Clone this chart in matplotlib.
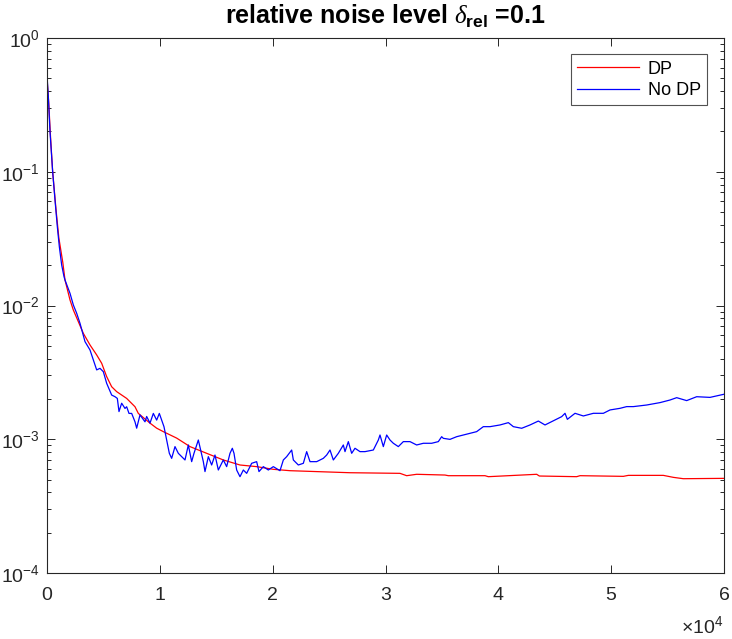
import matplotlib
matplotlib.use("Agg")
import matplotlib.pyplot as plt
from matplotlib.ticker import LogLocator, LogFormatterMathtext, NullFormatter, MultipleLocator, FuncFormatter

plt.rcParams['font.family'] = ['Liberation Sans', 'DejaVu Sans']
plt.rcParams['mathtext.fontset'] = 'custom'
plt.rcParams['mathtext.rm'] = 'Liberation Sans'
plt.rcParams['mathtext.it'] = 'Liberation Serif:italic'
plt.rcParams['mathtext.bf'] = 'Liberation Sans:bold'
plt.rcParams['mathtext.default'] = 'regular'

# ---- data ----
dp_x = [0, 150, 300, 500, 800, 1050, 1400, 1596, 2039, 2334, 2777, 3220, 3811, 4402, 4845,
        5288, 5731, 6174, 7060, 7799, 8094, 9128, 9719, 10310, 11491, 12673, 14150, 15627,
        17104, 18581, 20058, 21535, 23900, 26854, 31285, 31876, 32762, 35273, 35568, 38818,
        39113, 43399, 43635, 46944, 47239, 51079, 51523, 54624, 55510, 56396, 59941, 60000]
dp_y = [0.50, 0.33, 0.19, 0.100, 0.052, 0.032, 0.021, 0.0155, 0.0110, 0.00925, 0.00757,
        0.00619, 0.00507, 0.00427, 0.00370, 0.00294, 0.00247, 0.00227, 0.00202, 0.00175,
        0.00156, 0.00132, 0.00121, 0.00114, 0.00102, 0.000881, 0.000785, 0.000700, 0.000642,
        0.000624, 0.000596, 0.000582, 0.000573, 0.000562, 0.000556, 0.000534, 0.000547,
        0.000540, 0.000534, 0.000534, 0.000525, 0.000547, 0.000531, 0.000525, 0.000534,
        0.000528, 0.000537, 0.000537, 0.000519, 0.000507, 0.000510, 0.000510]

nodp_x = [0, 118, 266, 502, 709, 916, 1093, 1300, 1507, 1596, 2039, 2334, 2629, 2925, 3368,
          3811, 4106, 4402, 4697, 4993, 5288, 5731, 6027, 6233, 6381, 6617, 6913, 7060, 7267,
          7504, 7799, 7947, 8242, 8685, 8833, 9128, 9424, 9719, 9955, 10162, 10369, 10605,
          10842, 11048, 11344, 11639, 11935, 12230, 12525, 12821, 13027, 13412, 13618, 13855,
          14002, 14298, 14593, 14889, 15184, 15627, 15922, 16218, 16425, 16573, 16809, 17104,
          17400, 17695, 18138, 18581, 18788, 19172, 19615, 20058, 20649, 20946, 21241, 21685,
          21832, 22275, 22718, 23014, 23309, 23900, 24491, 24786, 25082, 25377, 25820, 26263,
          26411, 26706, 27002, 27297, 27740, 28183, 28922, 29365, 29513, 29808, 30103, 30399,
          30694, 31137, 31581, 32171, 32762, 33353, 34091, 34682, 34977, 35125, 35716, 36307,
          36898, 37488, 38079, 38670, 39263, 40149, 40888, 41331, 42070, 42808, 43546, 44137,
          45024, 45614, 45910, 46117, 46796, 47535, 48421, 49307, 49898, 50784, 51375, 51966,
          53147, 54329, 55215, 55806, 56692, 57578, 58760, 59941, 60000]
nodp_y = [0.528, 0.364, 0.1995, 0.1002, 0.0615, 0.0388, 0.0275, 0.0201, 0.01644, 0.0155,
          0.01233, 0.01009, 0.00875, 0.00736, 0.00537, 0.00465, 0.00392, 0.00330, 0.00339,
          0.00320, 0.00262, 0.00214, 0.00208, 0.00202, 0.00161, 0.00186, 0.00170, 0.00175,
          0.00156, 0.00156, 0.00135, 0.00121, 0.00152, 0.00135, 0.00148, 0.00132, 0.00156,
          0.00139, 0.00156, 0.00139, 0.00124, 0.000987, 0.000785, 0.000720, 0.000881, 0.000785,
          0.000741, 0.000700, 0.000906, 0.000680, 0.000785, 0.000987, 0.000831, 0.000680,
          0.000573, 0.000741, 0.000642, 0.000762, 0.000589, 0.000700, 0.000624, 0.000785,
          0.000856, 0.000785, 0.000589, 0.000525, 0.000589, 0.000556, 0.000661, 0.000680,
          0.000573, 0.000624, 0.000589, 0.000624, 0.000582, 0.000700, 0.000741, 0.000831,
          0.000700, 0.000642, 0.000661, 0.000808, 0.000680, 0.000680, 0.000720, 0.000762,
          0.000831, 0.000700, 0.000785, 0.000906, 0.000808, 0.000960, 0.000785, 0.000856,
          0.000808, 0.000808, 0.000831, 0.000987, 0.001076, 0.000881, 0.001076, 0.000987,
          0.000933, 0.000881, 0.000960, 0.000960, 0.000906, 0.000933, 0.000933, 0.000960,
          0.001045, 0.001016, 0.000998, 0.001045, 0.001076, 0.001107, 0.001140, 0.001242,
          0.001242, 0.001279, 0.001331, 0.001242, 0.001208, 0.001279, 0.001368, 0.001279,
          0.001393, 0.001476, 0.001563, 0.001409, 0.001563, 0.001493, 0.001563, 0.001563,
          0.001656, 0.001703, 0.001754, 0.001754, 0.001803, 0.001879, 0.001965, 0.002046,
          0.001945, 0.002080, 0.002056, 0.002167, 0.00217]

series_labels = ['DP', 'No DP']
title_text = r'relative noise level $\mathit{\delta}_{\mathbf{rel}}$ =0.1'
x_scale_exp = 4

# ---- figure ----
fig = plt.figure(figsize=(7.32, 6.39), dpi=100)
ax = fig.add_axes([47 / 732, 1 - 573 / 639, 677 / 732, 535 / 639])

ax.plot(dp_x, dp_y, color=(1, 0, 0), lw=0.9, label=series_labels[0])
ax.plot(nodp_x, nodp_y, color=(0, 0, 1), lw=0.9, label=series_labels[1])

ax.set_yscale('log')
ax.set_xlim(0, 60000)
ax.set_ylim(1e-4, 1e0)
ax.xaxis.set_major_locator(MultipleLocator(10000))
ax.xaxis.set_major_formatter(FuncFormatter(lambda v, p: f'{v / 10 ** x_scale_exp:g}'))
ax.yaxis.set_major_locator(LogLocator(base=10, numticks=10))
ax.yaxis.set_minor_locator(LogLocator(base=10, subs=range(2, 10), numticks=20))
ax.yaxis.set_minor_formatter(NullFormatter())
ax.yaxis.set_major_formatter(LogFormatterMathtext())

dark = '#262626'
for s in ax.spines.values():
    s.set_color(dark)
    s.set_linewidth(0.8)
ax.tick_params(which='both', direction='in', top=True, right=True, colors=dark,
               labelsize=14, width=0.7)
ax.tick_params(which='major', length=6)
ax.tick_params(which='minor', length=3)
ax.tick_params(axis='x', pad=10)
ax.tick_params(axis='y', pad=5)

fig.text(723 / 732, 2 / 639, r'$\times10^{%d}$' % x_scale_exp, ha='right', va='bottom',
         fontsize=14, color=dark)

ax.set_title(title_text, fontsize=18, fontweight='bold', pad=10)

leg = ax.legend(loc='upper right', bbox_to_anchor=(0.975, 0.9695), borderaxespad=0,
                fontsize=13, frameon=True, fancybox=False, handlelength=3.4,
                handletextpad=0.5, borderpad=0.35, labelspacing=0.25)
leg.get_frame().set_edgecolor(dark)
leg.get_frame().set_linewidth(0.8)

fig.savefig('out.png', dpi=100)
